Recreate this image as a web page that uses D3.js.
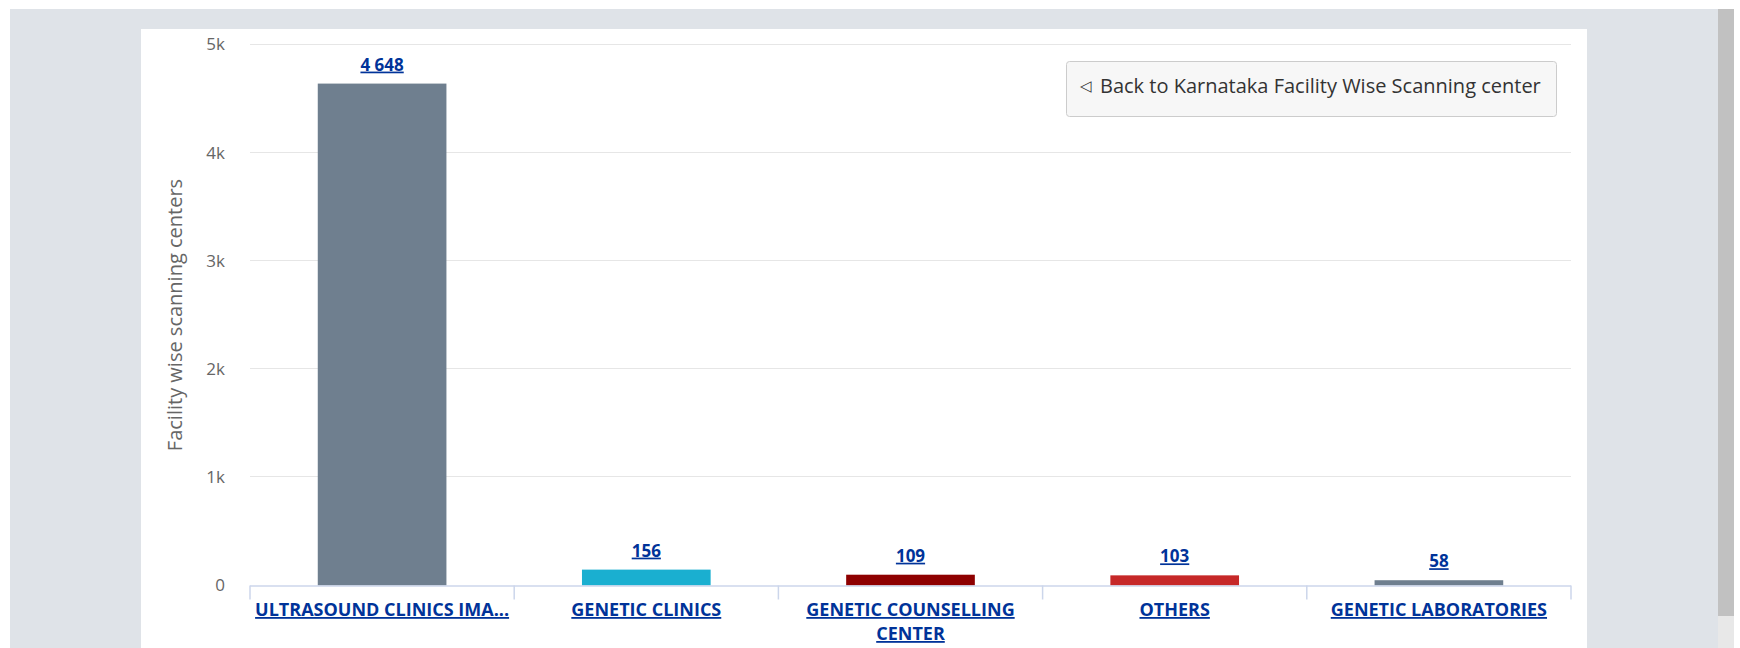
<!DOCTYPE html>
<html>
<head>
<meta charset="utf-8">
<script src="https://cdn.jsdelivr.net/npm/d3@7"></script>
<style>
  html, body { margin: 0; padding: 0; background: #ffffff; overflow: hidden; }
  svg { display: block; }
  .lbl { font-family: "Open Sans", sans-serif; }
</style>
</head>
<body>
<svg id="chart" width="1740" height="648"></svg>
<script>
// ---- data ----
const categories = ["ULTRASOUND CLINICS IMA...", "GENETIC CLINICS", "GENETIC COUNSELLING CENTER", "OTHERS", "GENETIC LABORATORIES"];
const values = [4648, 156, 109, 103, 58];
const barColors = ["#6f7f8f", "#1aafd0", "#8e0000", "#c62828", "#6f7f8f"];
const yTicks = [0, 1000, 2000, 3000, 4000, 5000];
const yTickLabels = ["0", "1k", "2k", "3k", "4k", "5k"];
const yTitle = "Facility wise scanning centers";
const buttonArrow = "\u25C1";
const buttonText = "Back to Karnataka Facility Wise Scanning center";

(function () {
const svg = d3.select("#chart");
const W = 1740, H = 648;

// page background
svg.append("rect").attr("x", 10).attr("y", 9).attr("width", 1708).attr("height", H - 9).attr("fill", "#dfe3e8");
// scrollbar
svg.append("rect").attr("x", 1718).attr("y", 9).attr("width", 16).attr("height", H - 9).attr("fill", "#e8e8e8");
svg.append("rect").attr("x", 1718).attr("y", 9).attr("width", 16).attr("height", 607).attr("fill", "#c1c1c1");
// panel
svg.append("rect").attr("x", 141).attr("y", 29).attr("width", 1446).attr("height", H - 29).attr("fill", "#ffffff");

const pLeft = 250, pRight = 1571, pTop = 44.5, pBottom = 585.5;
const x = d3.scaleBand().domain(categories).range([pLeft, pRight]).paddingInner(0.513).paddingOuter(0.2565);
const y = d3.scaleLinear().domain([0, 5000]).range([pBottom, pTop]);

// grid lines
svg.append("g").selectAll("line").data(yTicks.filter(d => d > 0)).join("line")
  .attr("x1", pLeft).attr("x2", pRight)
  .attr("y1", d => Math.round(y(d)) - 0.5).attr("y2", d => Math.round(y(d)) - 0.5)
  .attr("stroke", "#e6e6e6").attr("stroke-width", 1);

// y axis labels
svg.append("g").selectAll("text").data(yTicks).join("text")
  .attr("class", "lbl")
  .attr("x", 225).attr("y", d => y(d))
  .attr("dy", "0.35em")
  .attr("text-anchor", "end")
  .attr("font-size", 17).attr("fill", "#666666")
  .text((d, i) => yTickLabels[i]);

// y title
svg.append("text").attr("class", "lbl")
  .attr("transform", `translate(182, ${(pTop + pBottom) / 2}) rotate(-90)`)
  .attr("text-anchor", "middle")
  .attr("font-size", 20).attr("fill", "#666666")
  .text(yTitle);

// bars
svg.append("g").selectAll("rect").data(values).join("rect")
  .attr("x", (d, i) => x(categories[i]))
  .attr("width", x.bandwidth())
  .attr("y", d => y(d) + 1)
  .attr("height", d => pBottom - y(d) - 1)
  .attr("fill", (d, i) => barColors[i]);

// x axis line + ticks
svg.append("line").attr("x1", pLeft).attr("x2", pRight).attr("y1", pBottom + 0.5).attr("y2", pBottom + 0.5)
  .attr("stroke", "#ccd6eb").attr("stroke-width", 1.5);
const step = x.step();
const tickXs = d3.range(categories.length + 1).map(i => pLeft + i * step);
svg.append("g").selectAll("line").data(tickXs).join("line")
  .attr("x1", d => d).attr("x2", d => d)
  .attr("y1", pBottom).attr("y2", pBottom + 14)
  .attr("stroke", "#ccd6eb").attr("stroke-width", 1.5);

const fmt = v => d3.format(",")(v).replace(/,/g, " ");

// data labels
svg.append("g").selectAll("text").data(values).join("text")
  .attr("class", "lbl")
  .attr("x", (d, i) => x(categories[i]) + x.bandwidth() / 2)
  .attr("y", d => y(d) - 12)
  .attr("text-anchor", "middle")
  .attr("font-size", 17).attr("font-weight", "bold")
  .attr("fill", "#003399")
  .style("text-decoration", "underline")
  .text(d => fmt(d));

// category labels (wrapped)
function wrapLines(txt, maxW, size) {
  const words = txt.split(" ");
  const lines = [];
  let cur = "";
  const ctx = document.createElement("canvas").getContext("2d");
  ctx.font = `bold ${size}px "Open Sans"`;
  words.forEach(w => {
    const t = cur ? cur + " " + w : w;
    if (ctx.measureText(t).width > maxW && cur) { lines.push(cur); cur = w; }
    else cur = t;
  });
  if (cur) lines.push(cur);
  return lines;
}
const catG = svg.append("g");
categories.forEach((c, i) => {
  const cx = x(c) + x.bandwidth() / 2;
  const lines = wrapLines(c, step - 10, 18);
  const t = catG.append("text").attr("class", "lbl")
    .attr("x", cx).attr("y", 616)
    .attr("text-anchor", "middle")
    .attr("font-size", 18).attr("font-weight", "bold")
    .attr("fill", "#003399")
    .style("text-decoration", "underline");
  lines.forEach((ln, j) => {
    t.append("tspan").attr("x", cx).attr("dy", j === 0 ? 0 : 24).text(ln);
  });
});

// button
const bg = svg.append("g");
bg.append("rect").attr("x", 1066.5).attr("y", 61.5).attr("width", 490).attr("height", 55).attr("rx", 3)
  .attr("fill", "#f7f7f7").attr("stroke", "#cccccc").attr("stroke-width", 1);
const bt = bg.append("g").attr("class", "lbl").attr("fill", "#333333");
bt.append("text").attr("x", 1080).attr("y", 91).attr("font-size", 15).text(buttonArrow);
bt.append("text").attr("x", 1100).attr("y", 93).attr("font-size", 20).text(buttonText);
})();
</script>
</body>
</html>
